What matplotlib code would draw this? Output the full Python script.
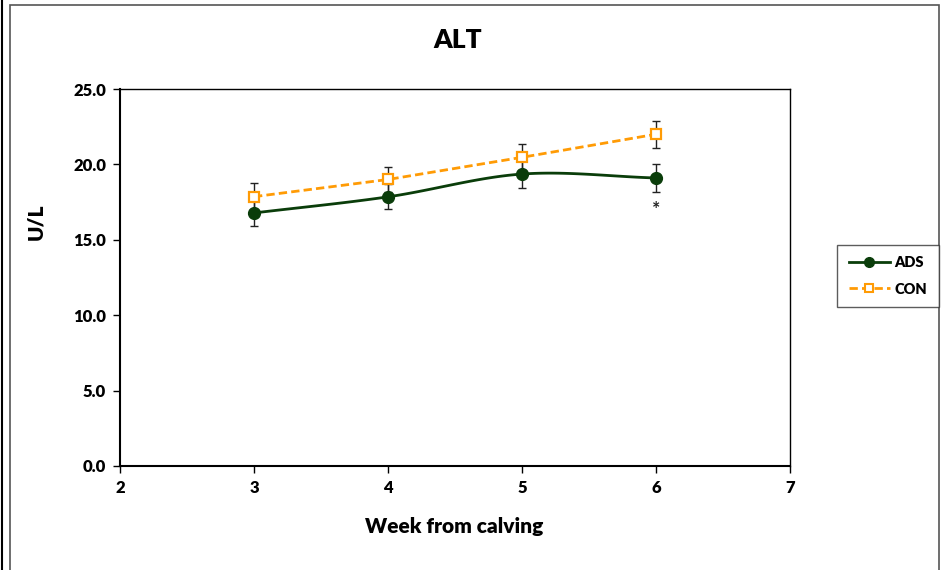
import numpy as np
import matplotlib
matplotlib.use("Agg")
import matplotlib.pyplot as plt
from matplotlib.lines import Line2D

# data
weeks = [3, 4, 5, 6]
ads = [16.78, 17.85, 19.36, 19.10]
ads_err = [0.89, 0.84, 0.90, 0.91]
con = [17.86, 19.00, 20.47, 22.00]
con_err = [0.89, 0.84, 0.86, 0.88]
sig_week = 6
sig_y = 17.0

plt.rcParams['font.family'] = ['Lato', 'DejaVu Sans']
plt.rcParams['font.weight'] = 'bold'

ADS_COL = '#0a3d0a'
CON_COL = '#ff9b05'


def smooth(x, y, n=40):
    # Catmull-Rom curve through the points (Excel style smoothed line)
    x = np.asarray(x, float)
    y = np.asarray(y, float)
    px = np.concatenate([[2 * x[0] - x[1]], x, [2 * x[-1] - x[-2]]])
    py = np.concatenate([[2 * y[0] - y[1]], y, [2 * y[-1] - y[-2]]])
    xs, ys = [], []
    t = np.linspace(0, 1, n)
    for i in range(1, len(px) - 2):
        for p, out in ((px, xs), (py, ys)):
            p0, p1, p2, p3 = p[i - 1], p[i], p[i + 1], p[i + 2]
            out.extend(0.5 * ((2 * p1) + (-p0 + p2) * t
                              + (2 * p0 - 5 * p1 + 4 * p2 - p3) * t ** 2
                              + (-p0 + 3 * p1 - 3 * p2 + p3) * t ** 3))
    return xs, ys


fig = plt.figure(figsize=(9.42, 5.70), dpi=100)
ax = fig.add_axes([120 / 942, 1 - 466 / 570, 670 / 942, 377 / 570])

# outer frames
fig.add_artist(Line2D([2 / 942, 2 / 942], [0, 1], color='black', lw=1.5))
fig.add_artist(plt.Rectangle((10 / 942, -0.1), 929 / 942, 1.1 - 5 / 570,
                             fill=False, ec='#555555', lw=1.2))

sx, sy = smooth(weeks, ads)
ax.plot(sx, sy, color=ADS_COL, lw=2, zorder=3)
ax.errorbar(weeks, ads, yerr=ads_err, fmt='none', ecolor='#222222',
            elinewidth=1, capsize=3, capthick=1, zorder=2)
ax.plot(weeks, ads, 'o', color=ADS_COL, ms=8.5, zorder=4)

ax.errorbar(weeks, con, yerr=con_err, fmt='none', ecolor='#222222',
            elinewidth=1, capsize=3, capthick=1, zorder=2)
ax.plot(weeks, con, color=CON_COL, lw=2, ls=(0, (3, 1.5)), zorder=3)
ax.plot(weeks, con, 's', color=CON_COL, mfc='white', mew=1.6, ms=7.5, zorder=4)

ax.text(sig_week, sig_y, '*', ha='center', va='center', fontsize=14,
        fontweight='bold', color='#222222')

ax.set_xlim(2, 7)
ax.set_ylim(0, 25)
ax.set_xticks(range(2, 8))
ax.set_yticks(np.arange(0, 25.1, 5))
ax.set_yticklabels([f'{v:.1f}' for v in np.arange(0, 25.1, 5)])
ax.tick_params(direction='out', length=5, width=1, labelsize=12, pad=5)
for lab in ax.get_xticklabels() + ax.get_yticklabels():
    lab.set_fontweight('heavy')
for s in ax.spines.values():
    s.set_linewidth(1)
ax.spines['left'].set_linewidth(1.5)
ax.spines['bottom'].set_linewidth(1.5)

fig.text(458 / 942, 1 - 40 / 570, 'ALT', ha='center', va='center',
         fontsize=19, fontweight='heavy')
fig.text(454 / 942, 1 - 527 / 570, 'Week from calving', ha='center', va='center',
         fontsize=15, fontweight='heavy')
fig.text(36 / 942, 1 - 222 / 570, 'U/L', ha='center', va='center', rotation=90,
         fontsize=15, fontweight='heavy')

handles = [Line2D([], [], color=ADS_COL, lw=2, marker='o', ms=7),
           Line2D([], [], color=CON_COL, lw=2, ls=(0, (3, 1.5)), marker='s',
                  mfc='white', mew=1.5, ms=6)]
leg = fig.legend(handles, ['ADS', 'CON'], loc='center',
                 bbox_to_anchor=(888 / 942, 1 - 276 / 570), frameon=True,
                 fancybox=False, edgecolor='#333333',
                 handlelength=2.8, handletextpad=0.3, borderpad=0.8,
                 labelspacing=0.9, prop={'weight': 'heavy', 'size': 10.5})
leg.get_frame().set_linewidth(1)

fig.savefig('out.png', dpi=100)
